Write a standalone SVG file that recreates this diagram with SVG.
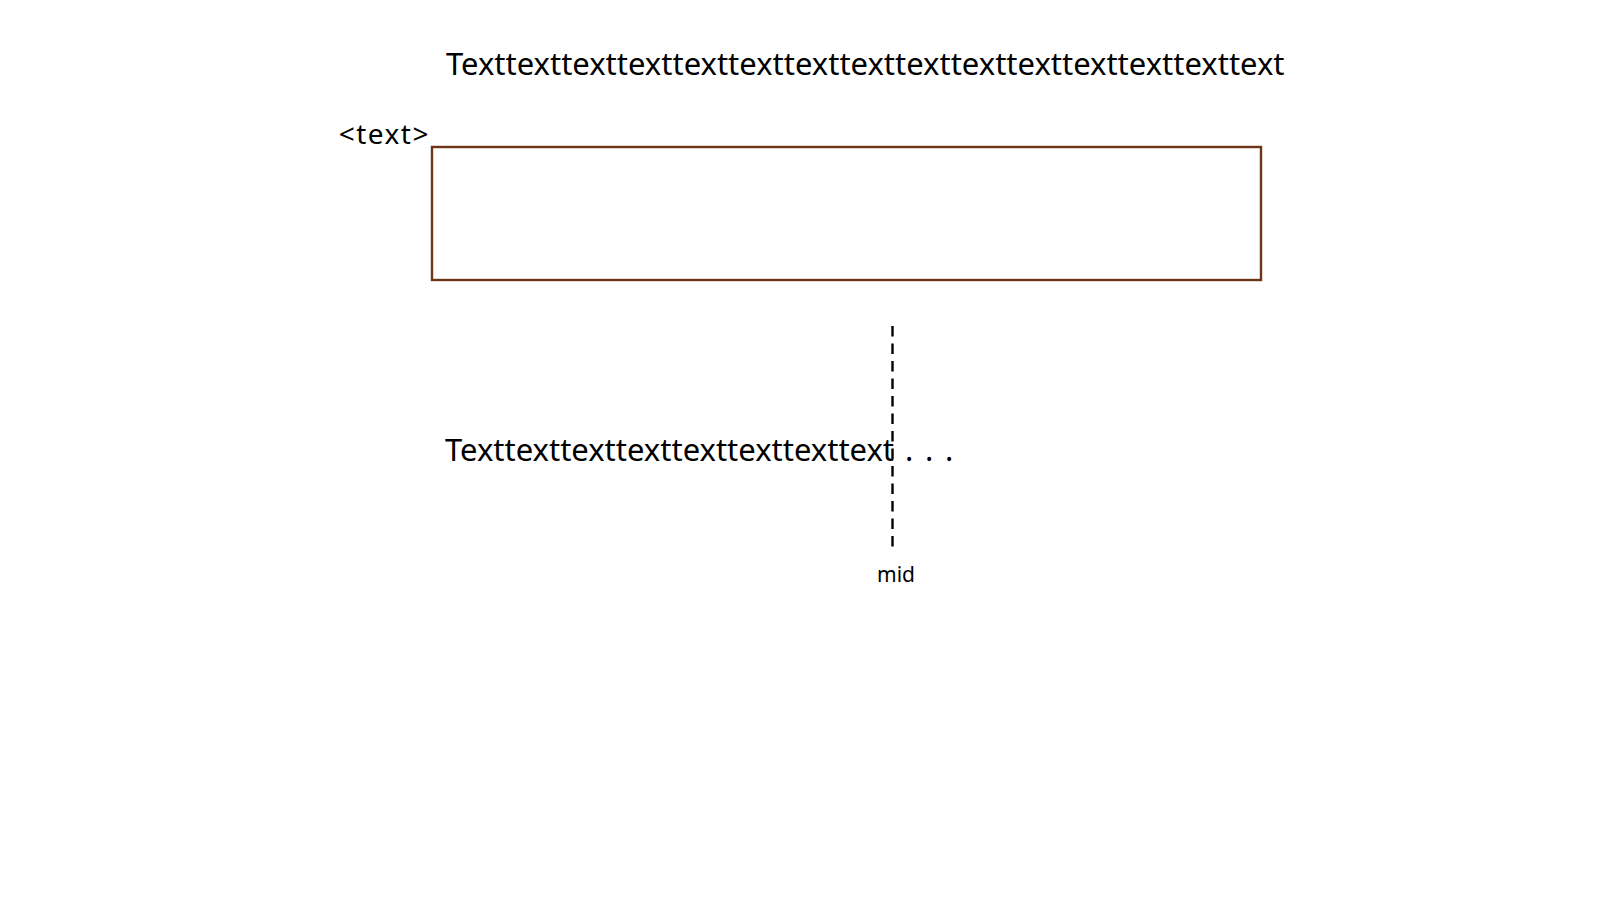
<svg xmlns="http://www.w3.org/2000/svg" width="1600" height="900" viewBox="0 0 1600 900">
<style>
text{font-family:"Noto Sans","Open Sans","DejaVu Sans",sans-serif;fill:#000}
.big{font-size:31px}
.lbl{font-size:28px}
.small{font-size:21px}
.box{fill:#fff;stroke:#6e3519;stroke-width:2.4}
.dash{stroke:#000;stroke-width:2.4;stroke-dasharray:10.5 7;fill:none}
</style>
<rect width="1600" height="900" fill="#fff"/>
<g id="title"><text class="big" x="446" y="75">Texttexttexttexttexttexttexttexttexttexttexttexttexttexttext</text></g>
<g id="box">
<rect class="box" x="432" y="147" width="829" height="133"/>
<text class="lbl" x="430" y="144" text-anchor="end" letter-spacing="1.5">&lt;text&gt;</text>
</g>
<g id="truncated"><text class="big" x="445" y="461">Texttexttexttexttexttexttexttext</text><text class="big" x="905 925 945" y="461">...</text></g>
<g id="connectors"><line class="dash" x1="892.5" y1="326" x2="892.5" y2="547"/></g>
<g id="midlabel"><text class="small" x="896" y="582" text-anchor="middle">mid</text></g>
</svg>
